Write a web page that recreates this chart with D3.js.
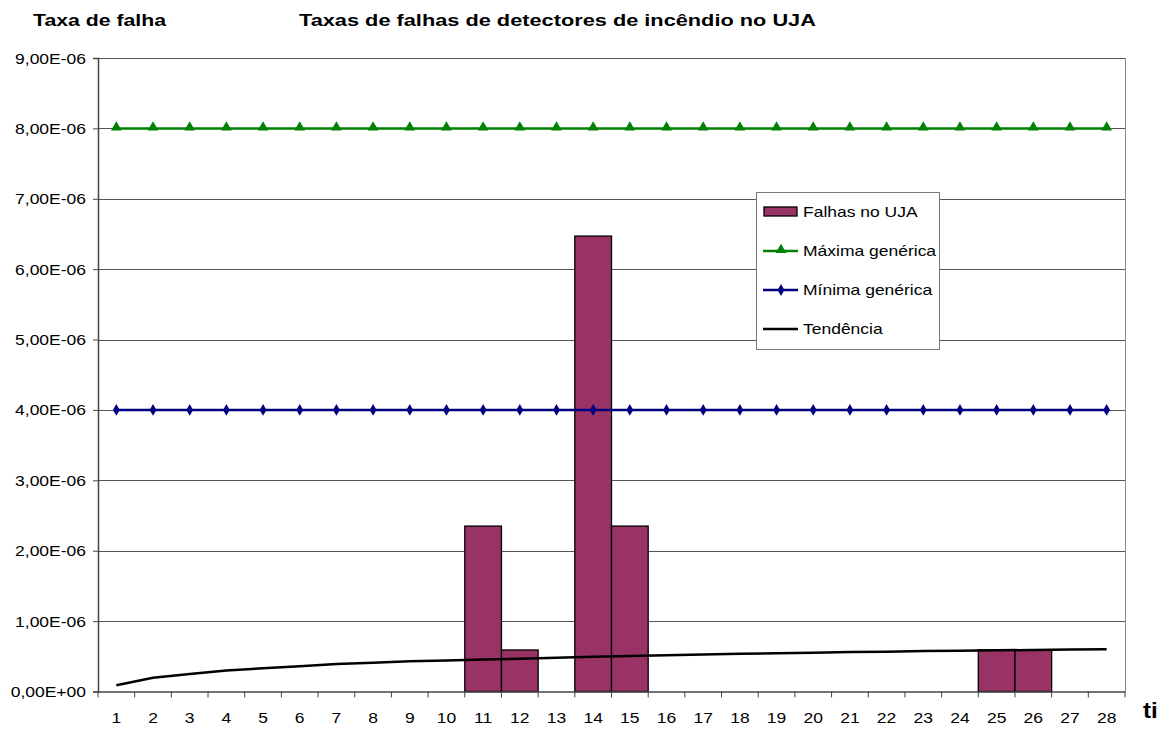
<!DOCTYPE html>
<html>
<head>
<meta charset="utf-8">
<script src="https://cdn.jsdelivr.net/npm/d3@7"></script>
<style>
  body { margin: 0; background: #fff; }
  text { font-family: "Liberation Sans", Arial, sans-serif; }
</style>
</head>
<body>
<div id="chart-area"></div>
<script>
// Data
const categories = d3.range(1, 29).map(String)
const falhas = [0,0,0,0,0,0,0,0,0,0, 2.35e-6,0.59e-6,0,6.47e-6,2.35e-6, 0,0,0,0,0,0,0,0,0, 0.59e-6,0.59e-6,0,0]
const maxima = categories.map(() => 8e-6)
const minima = categories.map(() => 4e-6)
const tendencia = [0.09e-6,0.195e-6,0.25e-6,0.30e-6,0.33e-6,0.36e-6,0.39e-6,0.41e-6,0.43e-6,0.44e-6,
  0.455e-6,0.465e-6,0.48e-6,0.495e-6,0.505e-6,0.515e-6,0.525e-6,0.535e-6,0.545e-6,0.55e-6,
  0.56e-6,0.565e-6,0.575e-6,0.58e-6,0.585e-6,0.59e-6,0.595e-6,0.60e-6]
const yTicks = d3.range(0, 10).map(d => d * 1e-6)
const yTickLabels = ["0,00E+00","1,00E-06","2,00E-06","3,00E-06","4,00E-06","5,00E-06","6,00E-06","7,00E-06","8,00E-06","9,00E-06"]

const W = 1176, H = 731
const PLOT = { LEFT: 98, RIGHT: 1125, TOP: 58, BOTTOM: 691.5 }

const svg = d3.select("#chart-area").append("svg")
  .attr("width", W)
  .attr("height", H)

// stretched text, like the original
function stretch(sel, tx, ty, s) {
  sel.attr("x", 0).attr("y", 0)
    .attr("transform", `translate(${tx}, ${ty}) scale(${s}, 1)`)
}

// Scales
const x = d3.scaleBand()
  .domain(categories)
  .range([PLOT.LEFT, PLOT.RIGHT])
  .paddingInner(0)
const y = d3.scaleLinear()
  .domain([0, 9e-6])
  .range([PLOT.BOTTOM, PLOT.TOP])
const cx = d => x(d) + x.bandwidth() / 2

// Gridlines
svg.append("g")
  .selectAll("line")
  .data(yTicks.slice(1))
  .join("line")
    .attr("x1", PLOT.LEFT)
    .attr("x2", PLOT.RIGHT)
    .attr("y1", d => Math.round(y(d)) + 0.5)
    .attr("y2", d => Math.round(y(d)) + 0.5)
    .attr("stroke", "#555")
    .attr("stroke-width", 1)
svg.append("line")
  .attr("x1", PLOT.RIGHT + 0.5).attr("x2", PLOT.RIGHT + 0.5)
  .attr("y1", PLOT.TOP).attr("y2", PLOT.BOTTOM)
  .attr("stroke", "#888")

// Bars
svg.append("g")
  .selectAll("rect")
  .data(categories.map((c, i) => ({ c, v: falhas[i] })).filter(d => d.v > 0))
  .join("rect")
    .attr("x", d => x(d.c))
    .attr("y", d => y(d.v))
    .attr("width", x.bandwidth())
    .attr("height", d => y(0) - y(d.v))
    .attr("fill", "#993366")
    .attr("stroke", "#000")
    .attr("stroke-width", 1.3)

// Y Axis
const yAxis = svg.append("g")
  .attr("transform", `translate(${PLOT.LEFT}, 0)`)
  .call(d3.axisLeft(y).tickValues(yTicks).tickSize(5).tickFormat((d, i) => yTickLabels[i]))
yAxis.select(".domain").attr("stroke", "#444").attr("stroke-width", 1.5)
yAxis.selectAll(".tick line").attr("stroke", "#444")
yAxis.selectAll(".tick text")
  .attr("font-size", "14px")
  .attr("fill", "#000")
  .attr("dy", "0.36em")
  .call(stretch, -12, 0, 1.25)

// X Axis
const xAxis = svg.append("g")
  .attr("transform", `translate(0, ${PLOT.BOTTOM})`)
  .call(d3.axisBottom(x).tickSize(0))
xAxis.select(".domain").attr("stroke", "#444").attr("stroke-width", 1.5)
xAxis.selectAll(".tick text")
  .attr("font-size", "14px")
  .attr("fill", "#000")
  .attr("dy", null)
  .call(stretch, 0, 31, 1.25)
xAxis.selectAll(".bnd")
  .data(categories.concat(["end"]))
  .join("line")
    .attr("class", "bnd")
    .attr("x1", d => d === "end" ? PLOT.RIGHT : x(d))
    .attr("x2", d => d === "end" ? PLOT.RIGHT : x(d))
    .attr("y1", 0).attr("y2", 6)
    .attr("stroke", "#444")

// Lines
const line = d3.line().x((d, i) => cx(categories[i])).y(d => y(d))
svg.append("path").datum(maxima).attr("d", line)
  .attr("fill", "none").attr("stroke", "#008000").attr("stroke-width", 2.5)
svg.append("path").datum(minima).attr("d", line)
  .attr("fill", "none").attr("stroke", "#000080").attr("stroke-width", 2.5)
svg.append("path").datum(tendencia).attr("d", line)
  .attr("fill", "none").attr("stroke", "#000").attr("stroke-width", 2.5)

const tri = d3.symbol().type(d3.symbolTriangle).size(50)
const dia = d3.symbol().type(d3.symbolDiamond).size(40)
svg.append("g").selectAll("path")
  .data(maxima)
  .join("path")
    .attr("d", tri)
    .attr("transform", (d, i) => `translate(${cx(categories[i])}, ${y(d) - 1})`)
    .attr("fill", "#008000")
svg.append("g").selectAll("path")
  .data(minima)
  .join("path")
    .attr("d", dia)
    .attr("transform", (d, i) => `translate(${cx(categories[i])}, ${y(d)})`)
    .attr("fill", "#000080")

// Legend
const legend = svg.append("g").attr("transform", "translate(756, 192)")
legend.append("rect")
  .attr("x", 0.5).attr("y", 0.5)
  .attr("width", 183).attr("height", 157)
  .attr("fill", "#fff")
  .attr("stroke", "#777")
const legendItems = ["Falhas no UJA", "Máxima genérica", "Mínima genérica", "Tendência"]
legendItems.forEach((name, i) => {
  const row = legend.append("g").attr("transform", `translate(0, ${20 + i * 39})`)
  if (i === 0) {
    row.append("rect")
      .attr("x", 8).attr("y", -5)
      .attr("width", 33).attr("height", 9)
      .attr("fill", "#993366").attr("stroke", "#000").attr("stroke-width", 1.3)
  } else {
    const col = ["#008000", "#000080", "#000"][i - 1]
    row.append("line")
      .attr("x1", 7).attr("x2", 42).attr("y1", 0).attr("y2", 0)
      .attr("stroke", col).attr("stroke-width", 2.5)
    if (i === 1) row.append("path").attr("d", tri).attr("transform", "translate(25,-1)").attr("fill", col)
    if (i === 2) row.append("path").attr("d", dia).attr("transform", "translate(25,0)").attr("fill", col)
  }
  row.append("text")
    .attr("font-size", "14px")
    .text(name)
    .call(stretch, 47, 5, 1.25)
})

// Labels
svg.append("text")
  .attr("font-size", "17px").attr("font-weight", "bold")
  .text("Taxa de falha")
  .call(stretch, 33, 26, 1.25)
svg.append("text")
  .attr("font-size", "17px").attr("font-weight", "bold")
  .text("Taxas de falhas de detectores de incêndio no UJA")
  .call(stretch, 299, 26, 1.28)
svg.append("text")
  .attr("font-size", "22px").attr("font-weight", "bold")
  .text("ti")
  .call(stretch, 1143, 718, 1.1)
</script>
</body>
</html>
